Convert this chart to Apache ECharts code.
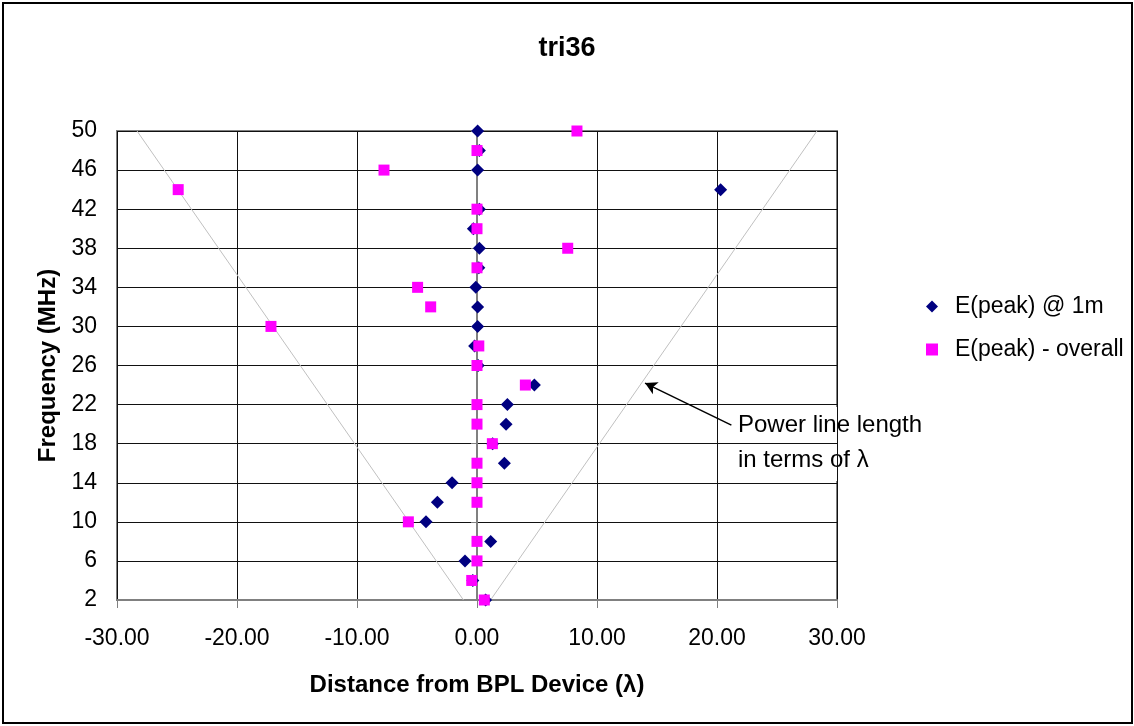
<!DOCTYPE html>
<html>
<head>
<meta charset="utf-8">
<script src="https://cdn.jsdelivr.net/npm/echarts@6/dist/echarts.min.js"></script>
<style>
  html, body { margin: 0; padding: 0; background: #fff; }
  #chart { width: 1134px; height: 726px; }
</style>
</head>
<body>
<div id="chart"></div>
<script>
// frequency (MHz) of each measurement
const frequencies = [2, 4, 6, 8, 10, 12, 14, 16, 18, 20, 22, 24, 26, 28, 30, 32, 34, 36, 38, 40, 42, 44, 46, 48, 50];
// distance (in wavelengths) of E(peak) @ 1m
const peakAt1m = [0.72, -0.35, -1.0, 1.14, -4.25, -3.3, -2.08, 2.28, 1.3, 2.42, 2.53, 4.78, 0.1, -0.2, 0.05, 0.05, -0.1, 0.15, 0.2, -0.3, 0.2, 20.3, 0.05, 0.2, 0.05];
// distance (in wavelengths) of E(peak) overall
const peakOverall = [0.61, -0.44, 0, 0, -5.72, 0, 0, 0, 1.28, 0, 0, 4.03, 0, 0.15, -17.17, -3.86, -4.95, 0, 7.56, 0, 0, -24.9, -7.75, 0, 8.33];
// power line length in terms of lambda (end points)
const powerLineFreq = [2, 50];
const powerLineLen = [1.13, 28.33];
// arrow of the annotation: tail -> head (data coords)
const arrowTail = [21.2, 19.9];
const arrowHead = [14.0, 24.2];

const FONT = 'Liberation Sans, Arial, sans-serif';

const chart = echarts.init(document.getElementById('chart'));

const toPairs = (xs, ys) => xs.map((x, i) => [x, ys[i]]);

const option = {
  animation: false,
  title: {
    text: 'tri36',
    left: 'center',
    top: 35,
    padding: 0,
    textStyle: { fontFamily: FONT, fontSize: 27, fontWeight: 'bold', color: '#000' }
  },
  legend: {
    orient: 'vertical',
    left: 921,
    top: 290,
    itemWidth: 12,
    itemHeight: 12,
    itemGap: 20,
    data: ['E(peak) @ 1m', 'E(peak) - overall'],
    textStyle: { fontFamily: FONT, fontSize: 23, color: '#000', padding: [0, 0, 0, 12] }
  },
  grid: {
    left: 117,
    right: 297,
    top: 131,
    bottom: 126,
    show: true,
    borderColor: '#808080',
    borderWidth: 2
  },
  xAxis: {
    type: 'value',
    min: -30,
    max: 30,
    interval: 10,
    name: 'Distance from BPL Device (λ)',
    nameLocation: 'middle',
    nameGap: 73,
    nameTextStyle: { fontFamily: FONT, fontSize: 24, fontWeight: 'bold', color: '#000' },
    axisLine: { onZero: false, lineStyle: { color: '#808080', width: 2 } },
    axisTick: { show: true, length: 8, lineStyle: { color: '#808080' } },
    axisLabel: {
      fontFamily: FONT, fontSize: 23, color: '#000', margin: 27,
      formatter: v => v.toFixed(2)
    },
    splitLine: { show: true, lineStyle: { color: '#111', width: 1 } }
  },
  yAxis: [
    {
      type: 'value',
      min: 2,
      max: 50,
      interval: 4,
      name: 'Frequency (MHz)',
      nameLocation: 'middle',
      nameGap: 57,
      nameTextStyle: { fontFamily: FONT, fontSize: 24, fontWeight: 'bold', color: '#000' },
      axisLine: { show: false, onZero: false },
      axisTick: { show: false },
      axisLabel: { fontFamily: FONT, fontSize: 23, color: '#000', margin: 20 },
      splitLine: { show: true, lineStyle: { color: '#111', width: 1 } }
    },
    {
      type: 'value',
      position: 'left',
      min: 2,
      max: 50,
      interval: 4,
      axisLine: { show: true, onZero: true, lineStyle: { color: '#808080', width: 2 } },
      axisTick: { show: true, length: 6, lineStyle: { color: '#808080' } },
      axisLabel: { show: false },
      splitLine: { show: false }
    }
  ],
  graphic: [
    {
      type: 'rect',
      shape: { x: 3, y: 3, width: 1129, height: 720 },
      style: { fill: 'none', stroke: '#000', lineWidth: 2 },
      silent: true
    },
    {
      type: 'group',
      z: 100,
      children: [
        {
          type: 'rect',
          shape: { x: 731, y: 407, width: 205, height: 74 },
          style: { fill: '#fff' }
        },
        {
          type: 'text',
          x: 738, y: 425,
          style: { text: 'Power line length', font: '24px ' + FONT, fill: '#000', verticalAlign: 'middle' }
        },
        {
          type: 'text',
          x: 738, y: 460,
          style: { text: 'in terms of λ', font: '24px ' + FONT, fill: '#000', verticalAlign: 'middle' }
        }
      ]
    }
  ],
  series: [
    {
      name: 'power line left',
      type: 'line',
      data: toPairs(powerLineLen.map(v => -v), powerLineFreq),
      showSymbol: false,
      silent: true,
      lineStyle: { color: '#c0c0c0', width: 1 },
      z: 3
    },
    {
      name: 'power line right',
      type: 'line',
      data: toPairs(powerLineLen, powerLineFreq),
      showSymbol: false,
      silent: true,
      lineStyle: { color: '#c0c0c0', width: 1 },
      z: 3,
      markLine: {
        silent: true,
        symbol: ['none', 'arrow'],
        symbolSize: [10, 12],
        label: { show: false },
        lineStyle: { color: '#000', width: 1.5, type: 'solid' },
        data: [[{ coord: arrowTail }, { coord: arrowHead }]],
        z: 110
      }
    },
    {
      name: 'E(peak) @ 1m',
      type: 'scatter',
      data: toPairs(peakAt1m, frequencies),
      symbol: 'diamond',
      symbolSize: 13,
      itemStyle: { color: '#000080', opacity: 1 },
      z: 4
    },
    {
      name: 'E(peak) - overall',
      type: 'scatter',
      data: toPairs(peakOverall, frequencies),
      symbol: 'rect',
      symbolSize: 11,
      itemStyle: { color: '#ff00ff', opacity: 1 },
      z: 5
    }
  ]
};

chart.setOption(option);
</script>
</body>
</html>
